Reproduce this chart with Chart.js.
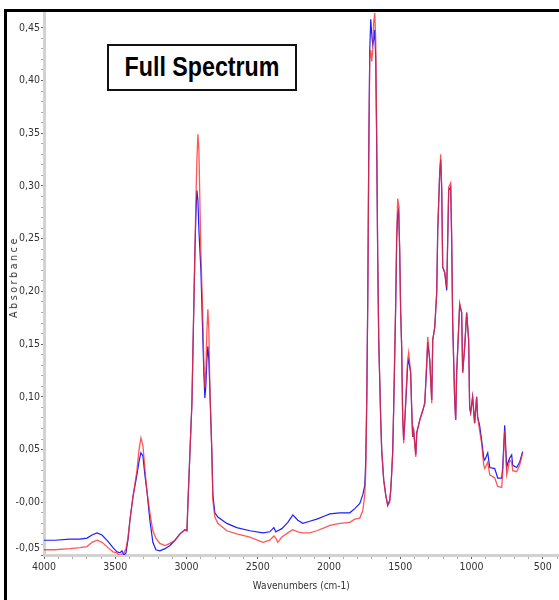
<!DOCTYPE html>
<html><head><meta charset="utf-8">
<script src="https://cdn.jsdelivr.net/npm/chart.js@4.4.1/dist/chart.umd.min.js"></script>
<style>
html,body{margin:0;padding:0;background:#fff;}
#wrap{position:relative;width:559px;height:600px;overflow:hidden;background:#fff;}
canvas{position:absolute;left:0;top:0;}
#frame{position:absolute;left:4px;top:9px;width:700px;height:700px;border-left:3px solid #000;border-top:3px solid #000;pointer-events:none;}
#box{position:absolute;left:107px;top:44px;width:190px;height:47px;box-sizing:border-box;border:2px solid #111;background:#fff;display:flex;align-items:center;justify-content:center;}
#box span{font-family:'Liberation Sans',Arial,sans-serif;font-weight:bold;font-size:27px;transform:scaleX(0.86);white-space:nowrap;color:#000;}
#ytitle{position:absolute;left:13px;top:277px;transform:translate(-50%,-50%) rotate(-90deg);font-family:'Liberation Sans Narrow','Arial Narrow','DejaVu Sans Condensed',sans-serif;font-size:10.5px;letter-spacing:2.6px;color:#333;white-space:nowrap;}
</style></head>
<body><div id="wrap"><canvas id="c" width="559" height="600"></canvas><div id="frame"></div><div id="box"><span>Full Spectrum</span></div><div id="ytitle"></div></div>
<script>
// Wavenumbers (cm-1)
const wavenumbers = [
 4000,3923,3818,3748,3698,3663,3628,3593,3551,3516,
 3488,3467,3453,3439,3425,3411,3397,3376,3348,3334,
 3320,3306,3292,3278,3257,3236,3215,3187,3151,3116,
 3081,3046,3011,2997,2990,2976,2962,2955,2941,2934,
 2927,2920,2913,2899,2885,2878,2871,2864,2857,2850,
 2843,2836,2822,2815,2801,2780,2717,2647,2555,2464,
 2415,2387,2373,2359,2331,2289,2254,2219,2184,2135,
 2086,2030,1994,1924,1854,1819,1784,1763,1749,1742,
 1735,1728,1721,1714,1707,1700,1693,1686,1679,1672,
 1665,1658,1651,1644,1637,1630,1616,1602,1588,1574,
 1567,1560,1553,1546,1532,1525,1518,1511,1504,1497,
 1490,1483,1476,1469,1455,1448,1441,1427,1420,1413,
 1406,1391,1384,1363,1342,1328,1314,1307,1293,1279,
 1272,1258,1244,1237,1223,1216,1209,1202,1188,1174,
 1167,1160,1146,1139,1132,1118,1111,1104,1090,1083,
 1069,1062,1048,1034,1020,1013,1006,992,978,964,
 957,943,929,914,907,886,872,837,816,788,
 781,767,753,746,732,718,711,683,662,641
];
// Blue spectrum absorbance
const absorbanceBlue = [
 -0.036,-0.036,-0.035,-0.035,-0.034,-0.031,-0.029,-0.031,-0.037,-0.043,
 -0.047,-0.048,-0.046,-0.050,-0.048,-0.036,-0.017,0.005,0.026,0.038,
 0.047,0.044,0.026,0.011,-0.017,-0.038,-0.045,-0.046,-0.044,-0.041,
 -0.036,-0.030,-0.026,-0.027,-0.001,0.047,0.094,0.142,0.237,0.273,
 0.296,0.287,0.258,0.220,0.154,0.121,0.099,0.111,0.135,0.148,
 0.135,0.106,0.047,0.007,-0.010,-0.014,-0.020,-0.024,-0.027,-0.029,
 -0.028,-0.024,-0.028,-0.027,-0.025,-0.019,-0.012,-0.017,-0.020,-0.018,
 -0.016,-0.013,-0.011,-0.010,-0.010,-0.006,-0.001,0.007,0.016,0.040,
 0.097,0.192,0.334,0.429,0.458,0.444,0.434,0.439,0.448,0.420,
 0.334,0.230,0.154,0.116,0.078,0.049,0.021,0.007,-0.003,0.002,
 0.011,0.028,0.049,0.090,0.185,0.249,0.273,0.277,0.239,0.180,
 0.147,0.081,0.059,0.075,0.111,0.130,0.135,0.123,0.090,0.062,
 0.068,0.045,0.066,0.078,0.087,0.094,0.130,0.152,0.135,0.097,
 0.154,0.166,0.199,0.258,0.313,0.325,0.296,0.223,0.218,0.201,
 0.249,0.296,0.299,0.249,0.170,0.097,0.078,0.123,0.166,0.187,
 0.180,0.123,0.147,0.180,0.154,0.090,0.085,0.100,0.075,0.100,
 0.081,0.073,0.059,0.042,0.040,0.047,0.033,0.032,0.023,0.023,
 0.033,0.073,0.033,0.037,0.042,0.045,0.035,0.033,0.038,0.048
];
// Red spectrum absorbance
const absorbanceRed = [
 -0.045,-0.045,-0.044,-0.043,-0.042,-0.038,-0.036,-0.038,-0.043,-0.047,
 -0.048,-0.051,-0.049,-0.048,-0.044,-0.034,-0.017,0.005,0.030,0.049,
 0.061,0.054,0.032,0.011,-0.010,-0.027,-0.034,-0.039,-0.041,-0.039,
 -0.036,-0.030,-0.026,-0.027,-0.001,0.047,0.094,0.144,0.239,0.287,
 0.325,0.349,0.334,0.237,0.173,0.130,0.109,0.125,0.163,0.183,
 0.163,0.109,0.047,0.002,-0.014,-0.020,-0.027,-0.030,-0.033,-0.038,
 -0.036,-0.032,-0.034,-0.038,-0.033,-0.029,-0.026,-0.028,-0.029,-0.029,
 -0.027,-0.024,-0.022,-0.020,-0.019,-0.016,-0.015,-0.008,0.007,0.030,
 0.097,0.192,0.325,0.420,0.429,0.418,0.429,0.456,0.464,0.439,
 0.344,0.230,0.154,0.116,0.078,0.049,0.021,0.007,-0.003,0.000,
 0.011,0.028,0.045,0.090,0.192,0.254,0.288,0.282,0.239,0.180,
 0.147,0.081,0.056,0.075,0.116,0.135,0.142,0.123,0.090,0.062,
 0.068,0.043,0.066,0.078,0.087,0.094,0.135,0.157,0.135,0.094,
 0.154,0.166,0.199,0.258,0.313,0.330,0.296,0.223,0.218,0.204,
 0.249,0.299,0.303,0.249,0.170,0.097,0.078,0.123,0.166,0.189,
 0.180,0.123,0.147,0.180,0.154,0.090,0.085,0.100,0.075,0.100,
 0.081,0.068,0.056,0.035,0.032,0.038,0.026,0.023,0.015,0.014,
 0.028,0.068,0.026,0.030,0.040,0.038,0.030,0.029,0.035,0.047
];
const xMajorTicks = [4000,3500,3000,2500,2000,1500,1000,500];
const yMajorTicks = [-0.05,0.00,0.05,0.10,0.15,0.20,0.25,0.30,0.35,0.40,0.45];
const xTitle = 'Wavenumbers (cm-1)';
const yTitle = 'Absorbance';

document.getElementById('ytitle').textContent = yTitle;

const FONT = "'Liberation Sans Narrow','Arial Narrow','DejaVu Sans Condensed',sans-serif";
const xMinorTicks = []; for (let v = 4000; v >= 400; v -= 100) xMinorTicks.push(v);
const yMinorTicks = []; for (let k = -5; k <= 45; k++) yMinorTicks.push(k / 100);
const isXMajor = v => xMajorTicks.includes(v);
const isYMajor = v => yMajorTicks.some(t => Math.abs(t - v) < 1e-9);

function fmtY(v) {
  if (Math.abs(v) < 1e-9) return '-0,00';
  const s = v.toFixed(2).replace('.', ',');
  if (Math.abs(v + 0.05) < 1e-9) return [s, ''];
  return s;
}

new Chart(document.getElementById('c'), {
  type: 'line',
  data: {
    datasets: [
      { label: 'Red', data: wavenumbers.map((w, i) => ({x: w, y: absorbanceRed[i]})),
        borderColor: 'rgba(255,40,40,0.78)', borderWidth: 1.3 },
      { label: 'Blue', data: wavenumbers.map((w, i) => ({x: w, y: absorbanceBlue[i]})),
        borderColor: 'rgba(30,30,255,1)', borderWidth: 1.2 }
    ]
  },
  options: {
    responsive: false, animation: false, devicePixelRatio: 1,
    layout: { padding: { top: 12, left: 0, right: 0, bottom: 0 } },
    plugins: { legend: { display: false }, tooltip: { enabled: false } },
    elements: { point: { radius: 0 }, line: { tension: 0 } },
    scales: {
      x: {
        type: 'linear', reverse: true, min: 388, max: 4000,
        afterFit(s) { s.height = 45; },
        afterBuildTicks(s) { s.ticks = xMinorTicks.map(v => ({ value: v })); },
        ticks: { autoSkip: false, maxRotation: 0, minRotation: 0, padding: 2, color: '#333',
          font: { family: FONT, size: 10.5 },
          callback: v => isXMajor(v) ? String(v) : '' },
        grid: { drawOnChartArea: false, drawTicks: true, tickLength: 4,
          tickColor: c => (c.tick && isXMajor(c.tick.value)) ? '#666' : '#aaa' },
        border: { display: true, color: '#d2d2d2', width: 3 },
        title: { display: true, text: xTitle, color: '#333', font: { family: FONT, size: 10 }, padding: { top: 0, bottom: 8 } }
      },
      y: {
        type: 'linear', min: -0.05, max: 0.465,
        afterFit(s) { s.width = 44; },
        afterBuildTicks(s) { s.ticks = yMinorTicks.map(v => ({ value: v })); },
        ticks: { autoSkip: false, padding: 1, color: '#333',
          font: { family: FONT, size: 10.5 },
          callback: v => isYMajor(v) ? fmtY(v) : '' },
        grid: { drawOnChartArea: false, drawTicks: true, tickLength: 3,
          tickColor: c => (c.tick && isYMajor(c.tick.value)) ? '#666' : '#aaa' },
        border: { display: true, color: '#d2d2d2', width: 3 },
        title: { display: false }
      }
    }
  }
});
</script>
</body></html>
